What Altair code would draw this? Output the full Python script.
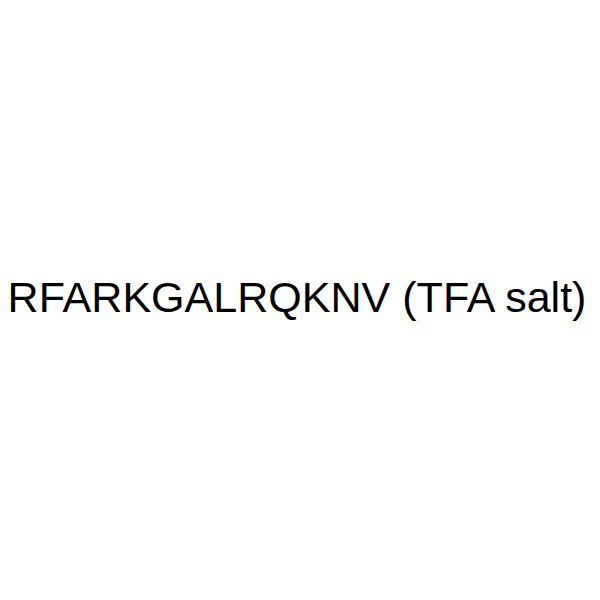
import altair as alt
import pandas as pd

labels = ["RFARKGALRQKNV (TFA salt)"]

df = pd.DataFrame({"label": labels})

chart = alt.Chart(df).mark_text(
    font="Liberation Sans",
    fontSize=43.5,
    color="black",
    align="center",
    baseline="alphabetic",
).encode(
    text="label:N",
    x=alt.value(292),
    y=alt.value(304),
).properties(
    width=590,
    height=584,
    padding=0,
    autosize=alt.AutoSizeParams(type="none"),
).configure_view(stroke=None)

chart.save("out.html", embed_options={"renderer": "svg", "actions": False})
